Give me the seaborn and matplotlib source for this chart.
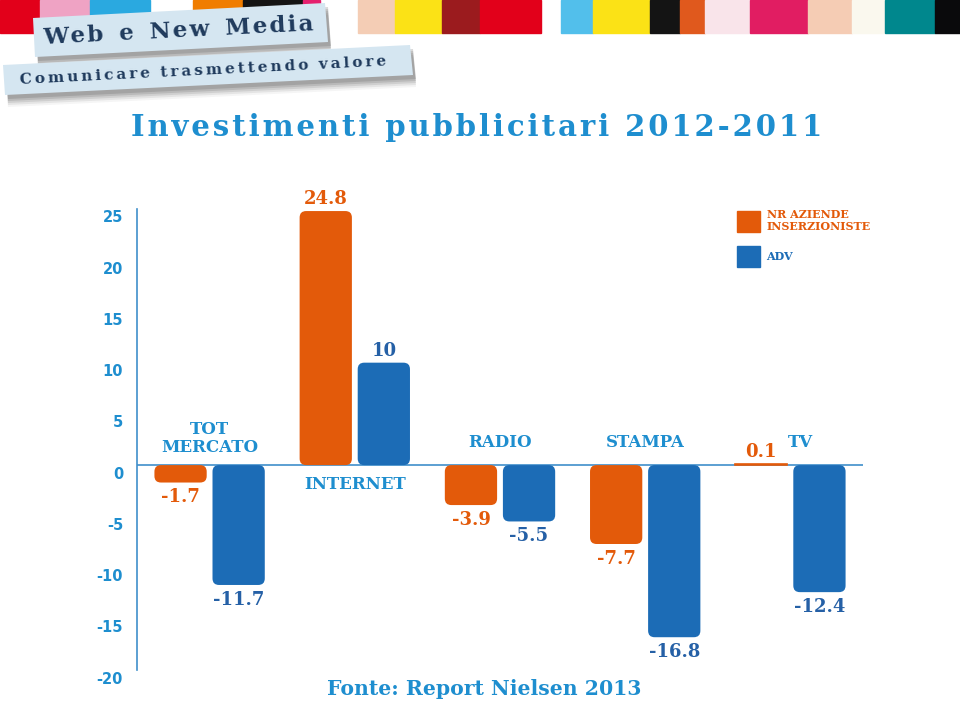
import matplotlib
matplotlib.use("Agg")
import matplotlib.pyplot as plt
from matplotlib.patches import FancyBboxPatch, Patch, Polygon, Rectangle
from matplotlib.transforms import ScaledTranslation
import pandas as pd
import seaborn as sns

# dati (variazione % 2012 vs 2011)
canali = ["TOT\nMERCATO", "INTERNET", "RADIO", "STAMPA", "TV"]
serie = ["NR AZIENDE\nINSERZIONISTE", "ADV"]
aziende = [-1.7, 24.8, -3.9, -7.7, 0.1]
adv = [-11.7, 10, -5.5, -16.8, -12.4]
y_ticks = [25, 20, 15, 10, 5, 0, -5, -10, -15, -20]

ORANGE = "#E35A0A"
BLUE = "#1C6CB6"
BLUE_VAL = "#2560A6"
TXT = "#1E8ECF"
NAVY = "#1F3A5C"
SLAB = "DejaVu Serif"

# strisce colorate in alto (x0, x1, colore) in pixel
strip = [(0, 40, "#E2001A"), (40, 90, "#EFA3C4"), (90, 150, "#2AA9E0"),
         (193, 243, "#F07D00"), (243, 303, "#141414"), (303, 320, "#E5206E"),
         (358, 395, "#F4CDB5"), (395, 442, "#FBE216"), (442, 480, "#9B1B1E"),
         (480, 541, "#E2001A"), (561, 593, "#52BFEB"), (593, 650, "#FBE216"),
         (650, 680, "#141414"), (680, 705, "#E0591D"), (705, 750, "#F9E4EA"),
         (750, 808, "#E11D62"), (808, 852, "#F5CCB4"), (852, 885, "#FAF8EE"),
         (885, 935, "#00878D"), (935, 960, "#0A0A0C")]

df = pd.DataFrame({
    "canale": canali * 2,
    "serie": [serie[0]] * len(canali) + [serie[1]] * len(canali),
    "valore": aziende + adv,
})

sns.set_style("white")
plt.rcParams["font.family"] = ["DejaVu Sans"]
plt.rcParams["axes.unicode_minus"] = False

W, H = 960, 707
fig = plt.figure(figsize=(W / 100, H / 100), dpi=100)
fig.patch.set_facecolor("white")


def px(x, y):
    # pixel dall'alto a sinistra -> pollici per dpi_scale_trans
    return (x / 100, (H - y) / 100)


# intestazione decorativa
for x0, x1, c in strip:
    fig.add_artist(Rectangle(px(x0, 33), (x1 - x0) / 100, 0.33, color=c,
                             transform=fig.dpi_scale_trans, zorder=1))

banners = [
    ([(33, 18), (325, 3), (328, 42), (35, 57)], "Web e New Media", 16.5, "\u200a", (178, 31)),
    ([(3, 65), (410, 45), (413, 75), (5, 95)], "Comunicare trasmettendo valore", 11, "\u2009", (203, 71)),
]
for pts, testo, fs, sep, centro in banners:
    for k, a in [(12, 0.06), (10, 0.1), (8, 0.14), (6, 0.18), (4, 0.22)]:
        sh = [px(x + 3, y + k) for x, y in pts]
        fig.add_artist(Polygon(sh, closed=True, color="#555555", alpha=a, lw=0,
                               transform=fig.dpi_scale_trans, zorder=2))
    fig.add_artist(Polygon([px(x, y) for x, y in pts], closed=True, color="#D5E6F1",
                           lw=0, transform=fig.dpi_scale_trans, zorder=3))
    spaced = "  ".join(sep.join(w) for w in testo.split())
    fig.text(*px(*centro), spaced, transform=fig.dpi_scale_trans, rotation=2.9,
             rotation_mode="anchor", ha="center", va="center", fontsize=fs,
             fontweight="bold", family=SLAB, color=NAVY, zorder=4)

titolo = "Investimenti pubblicitari 2012-2011"
fig.text(*px(477, 128), "\u200a".join(titolo), transform=fig.dpi_scale_trans,
         ha="center", va="center", fontsize=21, fontweight="bold", family=SLAB, color=TXT)

fig.text(*px(484, 689), "Fonte: Report Nielsen 2013", transform=fig.dpi_scale_trans,
         ha="center", va="center", fontsize=14.7, fontweight="bold", family=SLAB, color=TXT)

# grafico
ax = fig.add_axes([137 / W, 1 - 670 / H, 726 / W, 461 / H])
sns.barplot(data=df, x="canale", y="valore", hue="serie", palette=[ORANGE, BLUE],
            width=0.8, gap=0.1, errorbar=None, legend=False, linewidth=0, ax=ax, zorder=2)
ax.set_xlim(-0.5, 4.5)
ax.set_ylim(-19.9, 24.85)
ax.set_xlabel("")
ax.set_ylabel("")
ax.set_xticks([])
ax.set_yticks(y_ticks)
for s in ["top", "right", "bottom"]:
    ax.spines[s].set_visible(False)
ax.spines["left"].set_color("#3F8FCB")
ax.spines["left"].set_linewidth(1.2)
ax.axhline(0, color="#3F8FCB", lw=1.2, zorder=1)
ax.tick_params(axis="y", length=0, pad=10, labelcolor=TXT, labelsize=10.5)
for lab in ax.get_yticklabels():
    lab.set_fontweight("bold")
    lab.set_transform(lab.get_transform() + ScaledTranslation(0, -0.075, fig.dpi_scale_trans))

# barre con angoli arrotondati
pos = ax.get_position()
aspect = (pos.width * W / 5) / (pos.height * H / (24.85 + 19.9))
valori = [aziende, adv]
colori_val = [ORANGE, BLUE_VAL]
for cont, vals, col, fc in zip(ax.containers, valori, colori_val, [ORANGE, BLUE]):
    for rect, v in zip(cont.patches, vals):
        x, w = rect.get_x(), rect.get_width()
        y0, y1 = sorted([rect.get_y(), rect.get_y() + rect.get_height()])
        if abs(v) > 1:
            rect.set_visible(False)
            ax.add_patch(FancyBboxPatch((x, y0), w, y1 - y0,
                                        boxstyle="round,pad=0,rounding_size=0.045",
                                        mutation_aspect=aspect, fc=fc, ec="none", zorder=2))
        else:
            rect.set_edgecolor(fc)
            rect.set_linewidth(1.2)
        if v >= 0:
            ax.annotate(f"{v:g}", (x + w / 2, v), xytext=(0, 2), textcoords="offset points",
                        ha="center", va="bottom", fontsize=13, fontweight="bold",
                        family=SLAB, color=col)
        else:
            ax.annotate(f"{v:g}", (x + w / 2, v), xytext=(0, -4), textcoords="offset points",
                        ha="center", va="top", fontsize=13, fontweight="bold",
                        family=SLAB, color=col)

# etichette dei canali
etich_pos = [(0, 2.6), (1, -1.9), (2, 2.2), (3, 2.2), (4.07, 2.2)]
for nome, (xc, yc) in zip(canali, etich_pos):
    ax.text(xc, yc, nome, ha="center", va="center", fontsize=12, fontweight="bold",
            family=SLAB, color=TXT, linespacing=1.05)

handles = [Patch(color=ORANGE), Patch(color=BLUE)]
leg = fig.legend(handles, serie, loc="upper left", bbox_to_anchor=(731 / W, 1 - 203 / H),
                 frameon=False, prop={"family": SLAB, "weight": "bold", "size": 8},
                 handlelength=2.1, handleheight=2.6, handletextpad=0.6,
                 labelspacing=1.2, borderpad=0)
for t, c in zip(leg.get_texts(), [ORANGE, BLUE]):
    t.set_color(c)

fig.savefig("out.png", dpi=100, facecolor="white")
